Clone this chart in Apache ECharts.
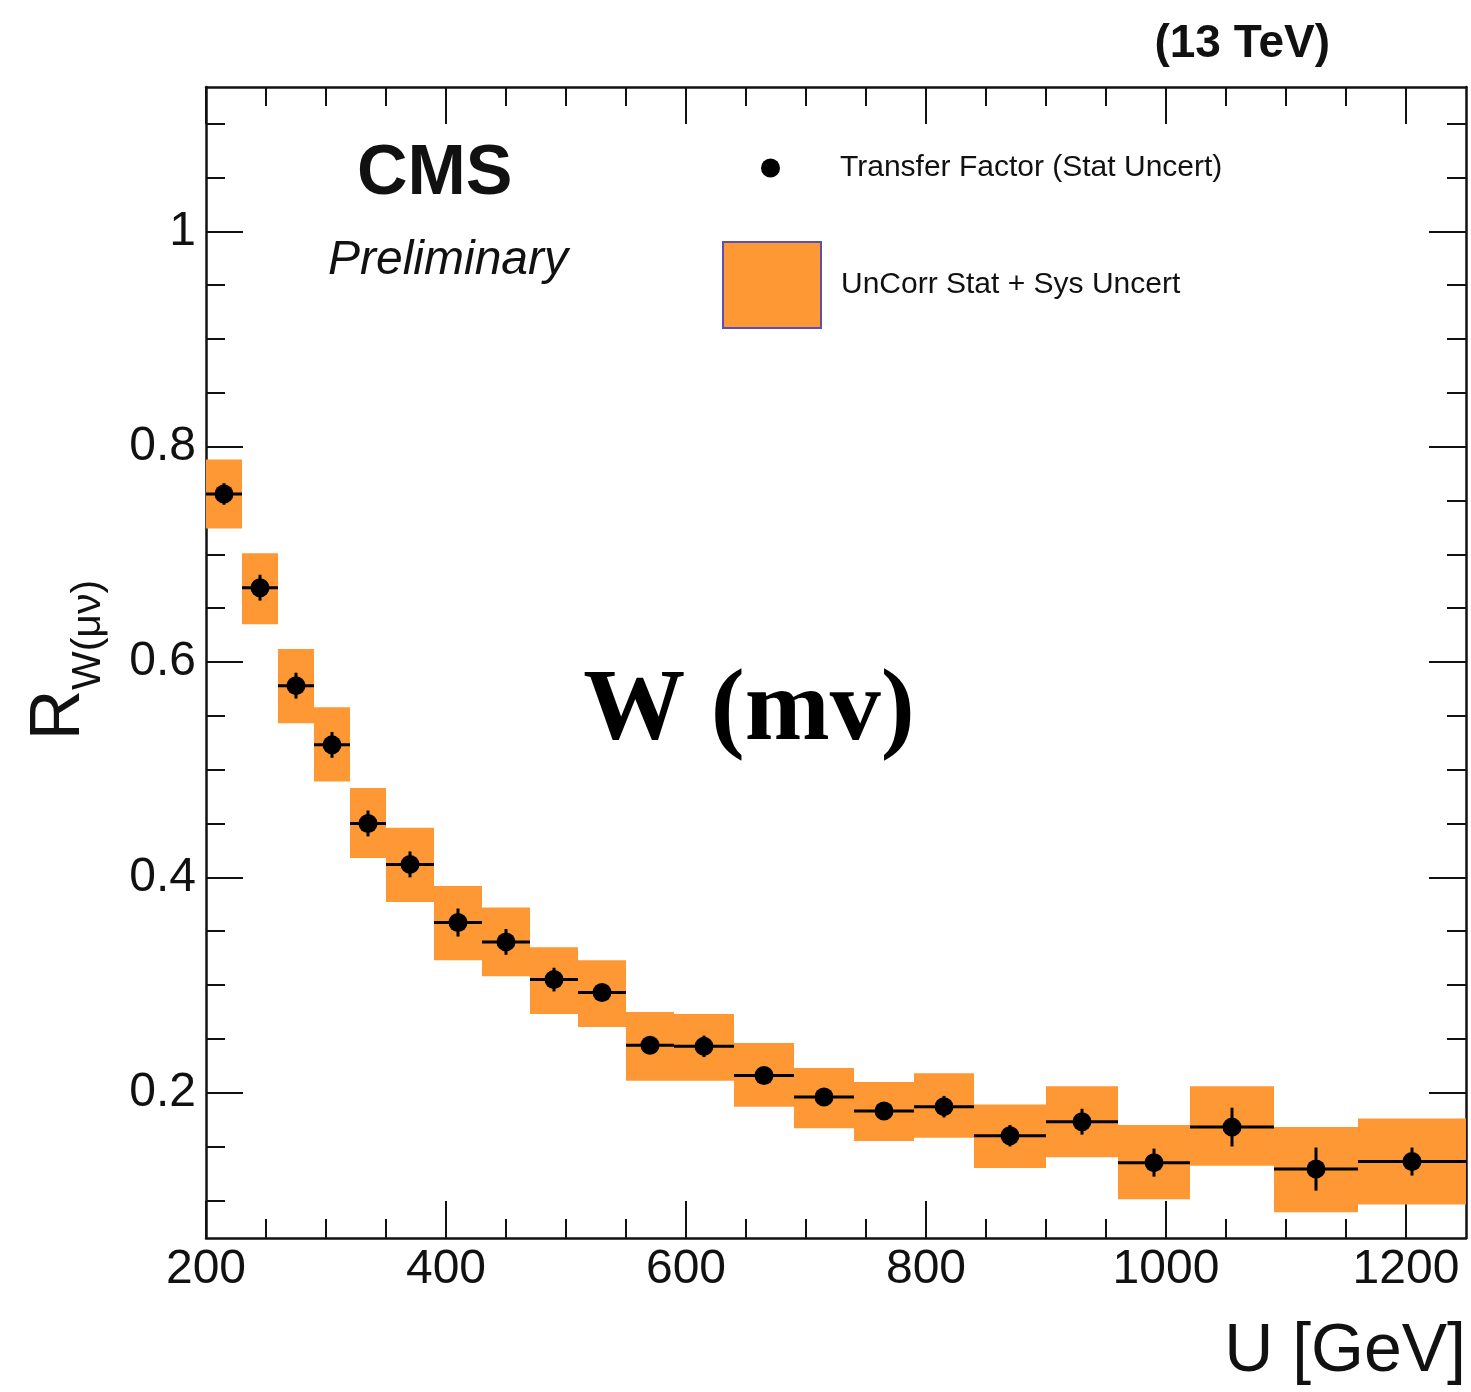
<!DOCTYPE html>
<html>
<head>
<meta charset="utf-8">
<script src="https://cdn.jsdelivr.net/npm/echarts@6/dist/echarts.min.js"></script>
<style>
  html, body { margin: 0; background: #fff; }
  #main { width: 1471px; height: 1392px; }
</style>
</head>
<body>
<div id="main"></div>
<script>
// bin edges in U [GeV]
const binEdges = [200, 230, 260, 290, 320, 350, 390, 430, 470, 510, 550, 590, 640, 690, 740, 790, 840, 900, 960, 1020, 1090, 1160, 1250];
// transfer factor and its stat uncertainty
const ratio = [0.756, 0.669, 0.578, 0.523, 0.450, 0.412, 0.358, 0.340, 0.305, 0.293, 0.244, 0.243, 0.216, 0.196, 0.183, 0.187, 0.160, 0.173, 0.135, 0.168, 0.129, 0.136];
const statErr = [0.010, 0.012, 0.012, 0.012, 0.012, 0.012, 0.013, 0.012, 0.011, 0.008, 0.008, 0.010, 0.008, 0.008, 0.008, 0.010, 0.010, 0.012, 0.013, 0.018, 0.020, 0.013];
// uncorr stat + sys band
const bandLow = [0.724, 0.635, 0.543, 0.489, 0.418, 0.377, 0.323, 0.308, 0.273, 0.261, 0.211, 0.211, 0.187, 0.167, 0.155, 0.158, 0.130, 0.140, 0.101, 0.132, 0.089, 0.096];
const bandHigh = [0.788, 0.701, 0.612, 0.558, 0.483, 0.446, 0.392, 0.372, 0.335, 0.323, 0.275, 0.273, 0.246, 0.223, 0.210, 0.218, 0.189, 0.206, 0.170, 0.206, 0.168, 0.176];

const xMajorTicks = [200, 400, 600, 800, 1000, 1200];
const xMinorTicks = [250, 300, 350, 450, 500, 550, 650, 700, 750, 850, 900, 950, 1050, 1100, 1150];
const yMajorTicks = [0.2, 0.4, 0.6, 0.8, 1];
const yMinorTicks = [0.1, 0.15, 0.25, 0.3, 0.35, 0.45, 0.5, 0.55, 0.65, 0.7, 0.75, 0.85, 0.9, 0.95, 1.05, 1.1];

const orange = '#fd9834';
const ink = '#111';
const sans = '"Liberation Sans", Arial, sans-serif';

const bands = [], bars = [], points = [];
for (let i = 0; i < ratio.length; i++) {
  const lo = binEdges[i], hi = binEdges[i + 1];
  bands.push([lo, hi, bandLow[i], bandHigh[i]]);
  bars.push([lo, hi, ratio[i], statErr[i]]);
  points.push([(lo + hi) / 2, ratio[i]]);
}

function xAxisDef(pos, ticks, len, main) {
  return {
    type: 'value', position: pos, min: 200, max: 1250,
    axisLine: { show: main, onZero: false, lineStyle: { color: ink, width: 2.5 } },
    axisTick: { show: true, inside: true, length: len, customValues: ticks, lineStyle: { color: ink, width: 2 } },
    axisLabel: (main && pos === 'bottom')
      ? { show: true, customValues: ticks, margin: 8, fontSize: 48, fontFamily: sans, color: ink, formatter: v => String(v) }
      : { show: false },
    splitLine: { show: false }
  };
}
function yAxisDef(pos, ticks, len, main) {
  return {
    type: 'value', position: pos, min: 0.065, max: 1.134,
    axisLine: { show: main, onZero: false, lineStyle: { color: ink, width: 2.5 } },
    axisTick: { show: true, inside: true, length: len, customValues: ticks, lineStyle: { color: ink, width: 2 } },
    axisLabel: (main && pos === 'left')
      ? { show: true, customValues: ticks, margin: 10, fontSize: 48, fontFamily: sans, color: ink, formatter: v => String(v) }
      : { show: false },
    splitLine: { show: false }
  };
}

const chart = echarts.init(document.getElementById('main'));
chart.setOption({
  animation: false,
  backgroundColor: '#fff',
  grid: { left: 206, top: 87, width: 1260, height: 1151 },
  xAxis: [
    xAxisDef('bottom', xMajorTicks, 37, true),
    xAxisDef('bottom', xMinorTicks, 19, false),
    xAxisDef('top', xMajorTicks, 37, true),
    xAxisDef('top', xMinorTicks, 19, false)
  ],
  yAxis: [
    yAxisDef('left', yMajorTicks, 37, true),
    yAxisDef('left', yMinorTicks, 19, false),
    yAxisDef('right', yMajorTicks, 37, true),
    yAxisDef('right', yMinorTicks, 19, false)
  ],
  legend: [
    {
      data: [{ name: 'Transfer Factor (Stat Uncert)', icon: 'circle', itemStyle: { color: '#000', opacity: 1 } }],
      left: 761, top: 153, padding: 0, itemWidth: 19, itemHeight: 19,
      selectedMode: false,
      textStyle: { fontSize: 30, fontFamily: sans, color: ink, padding: [0, 0, 0, 55] }
    },
    {
      data: [{ name: 'UnCorr Stat + Sys Uncert', icon: 'rect',
               itemStyle: { color: orange, borderColor: '#5a4fb8', borderWidth: 2 } }],
      left: 722, top: 241, padding: 0, itemWidth: 98, itemHeight: 86,
      selectedMode: false,
      textStyle: { fontSize: 30, fontFamily: sans, color: ink, padding: [0, 0, 0, 15] }
    }
  ],
  graphic: [
    { type: 'text', x: 1330, y: 44, style: { text: '(13 TeV)', font: 'bold 46px ' + sans, fill: ink, textAlign: 'right', align: 'right', textVerticalAlign: 'middle', verticalAlign: 'middle' } },
    { type: 'text', x: 357, y: 175, style: { text: 'CMS', font: 'bold 70px ' + sans, fill: ink, textAlign: 'left', align: 'left', textVerticalAlign: 'middle', verticalAlign: 'middle' } },
    { type: 'text', x: 328, y: 261, style: { text: 'Preliminary', font: 'italic 48px ' + sans, fill: ink, textAlign: 'left', align: 'left', textVerticalAlign: 'middle', verticalAlign: 'middle' } },
    { type: 'text', x: 749, y: 713, style: { text: 'W (mv)', font: 'bold 102px "Liberation Serif", "Times New Roman", serif', fill: '#000', textAlign: 'center', align: 'center', textVerticalAlign: 'middle', verticalAlign: 'middle' } },
    { type: 'text', x: 1466, y: 1352, style: { text: 'U [GeV]', font: '68px ' + sans, fill: ink, textAlign: 'right', align: 'right', textVerticalAlign: 'middle', verticalAlign: 'middle' } },
    { type: 'text', x: 60, y: 715, rotation: Math.PI / 2, style: { text: 'R', font: '70px ' + sans, fill: ink, textAlign: 'center', align: 'center', textVerticalAlign: 'middle', verticalAlign: 'middle' } },
    { type: 'text', x: 89, y: 635, rotation: Math.PI / 2, style: { text: 'W(μν)', font: '41px ' + sans, fill: ink, textAlign: 'center', align: 'center', textVerticalAlign: 'middle', verticalAlign: 'middle' } }
  ],
  series: [
    {
      name: 'UnCorr Stat + Sys Uncert',
      type: 'custom',
      itemStyle: { color: orange },
      encode: { x: [0, 1], y: [2, 3] },
      data: bands,
      renderItem: (params, api) => {
        const p0 = api.coord([api.value(0), api.value(3)]);
        const p1 = api.coord([api.value(1), api.value(2)]);
        return { type: 'rect', shape: { x: p0[0], y: p0[1], width: p1[0] - p0[0], height: p1[1] - p0[1] },
                 style: { fill: orange } };
      },
      z: 1
    },
    {
      name: 'stat bars',
      type: 'custom',
      data: bars,
      encode: { x: [0, 1], y: 2 },
      renderItem: (params, api) => {
        const xlo = api.value(0), xhi = api.value(1), y = api.value(2), e = api.value(3);
        const xc = (xlo + xhi) / 2;
        const a = api.coord([xlo, y]), b = api.coord([xhi, y]);
        const c = api.coord([xc, y - e]), d = api.coord([xc, y + e]);
        const st = { stroke: '#000', lineWidth: 3 };
        return { type: 'group', children: [
          { type: 'line', shape: { x1: a[0], y1: a[1], x2: b[0], y2: b[1] }, style: st },
          { type: 'line', shape: { x1: c[0], y1: c[1], x2: d[0], y2: d[1] }, style: st }
        ] };
      },
      z: 2
    },
    {
      name: 'Transfer Factor (Stat Uncert)',
      type: 'scatter',
      data: points,
      symbol: 'circle',
      symbolSize: 19,
      itemStyle: { color: '#000', opacity: 1 },
      z: 3
    }
  ]
});
</script>
</body>
</html>
